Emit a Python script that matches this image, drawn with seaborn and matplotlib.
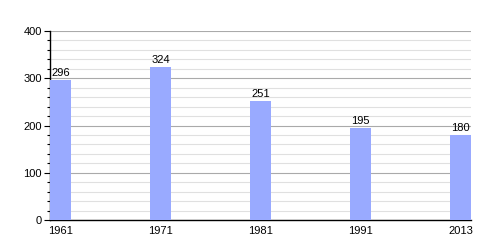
import matplotlib
matplotlib.use("Agg")
import matplotlib.pyplot as plt
import seaborn as sns
import pandas as pd
from matplotlib.ticker import MultipleLocator

years = ["1961", "1971", "1981", "1991", "2013"]
population = [296, 324, 251, 195, 180]

sns.set_theme(style="white")
plt.rcParams['font.family'] = ['Liberation Sans', 'DejaVu Sans']

df = pd.DataFrame({"year": years, "pop": population})

fig = plt.figure(figsize=(5, 2.5), dpi=100)
ax = fig.add_axes([0.1, 0.12, 0.842, 0.756])

sns.barplot(data=df, x="year", y="pop", order=years, color="#99aaff",
            saturation=1, width=0.21, linewidth=0, ax=ax, zorder=3)

ax.set_xlim(-0.105, 4.105)
ax.set_ylim(0, 400)
ax.yaxis.set_major_locator(MultipleLocator(100))
ax.yaxis.set_minor_locator(MultipleLocator(20))
ax.grid(True, axis="y", which="major", color="#aaaaaa", linewidth=0.8, zorder=0)
ax.grid(True, axis="y", which="minor", color="#e0e0e0", linewidth=0.8, zorder=0)
ax.set_axisbelow(True)

for s in ["top", "right"]:
    ax.spines[s].set_visible(False)
for s in ["left", "bottom"]:
    ax.spines[s].set_color("black")
    ax.spines[s].set_linewidth(1.0)

ax.tick_params(axis="y", which="major", left=True, length=4, width=0.8,
               color="black", labelsize=8, pad=2, labelcolor="black")
ax.tick_params(axis="y", which="minor", left=True, length=2.5, width=0.8, color="black")
ax.tick_params(axis="x", which="both", bottom=False, labelsize=8, pad=-1.5, labelcolor="black")
ax.set_xlabel("")
ax.set_ylabel("")

for c in ax.containers:
    ax.bar_label(c, labels=[str(v) for v in population], padding=1.5, fontsize=8,
                 color="black")

fig.savefig("out.png", dpi=100)
